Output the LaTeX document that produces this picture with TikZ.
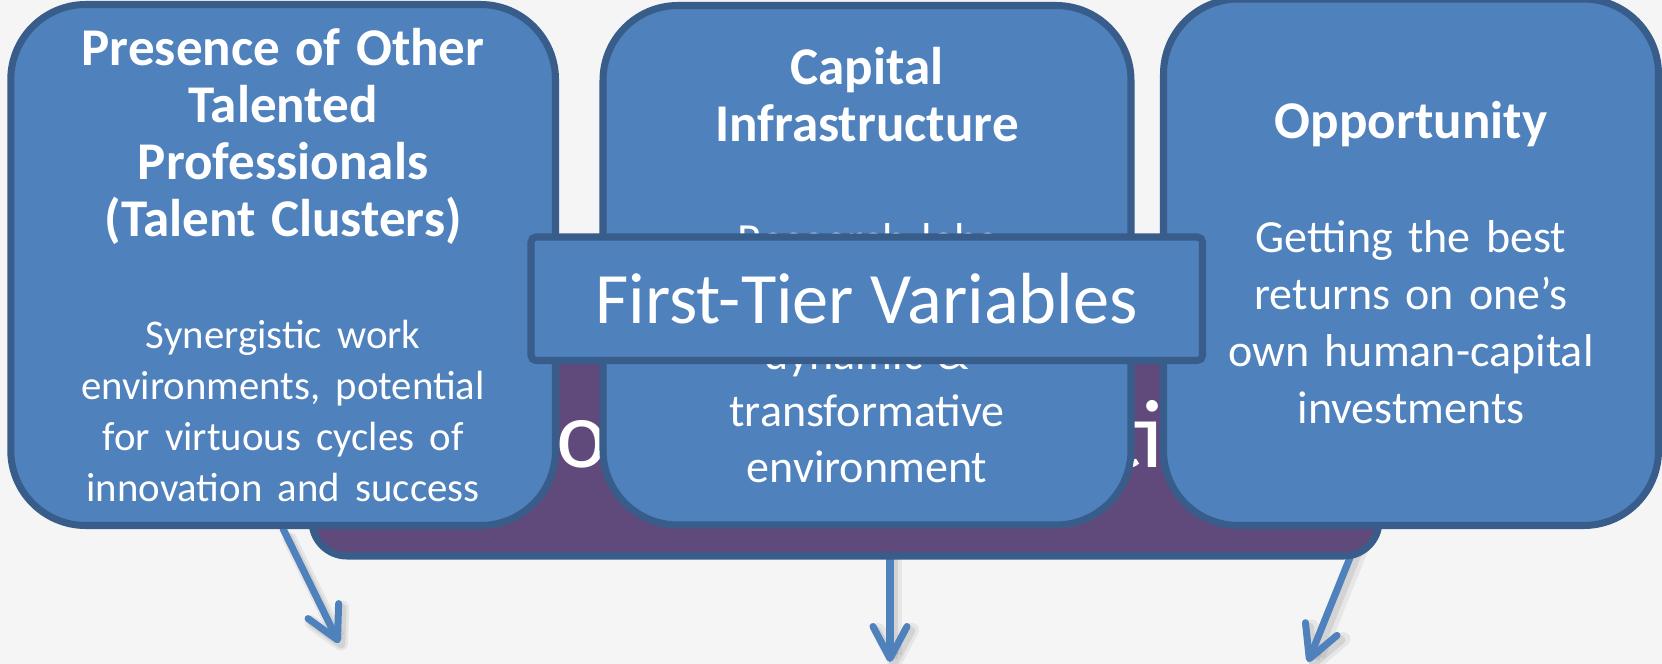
\documentclass[tikz,border=0pt]{standalone}
\usepackage{fontspec}
\setmainfont{Carlito}
\usepackage{tikz}
\usetikzlibrary{positioning, arrows.meta, backgrounds}
\definecolor{boxblue}{HTML}{4F81BD}
\definecolor{boxline}{HTML}{385D8A}
\definecolor{plum}{HTML}{604A7B}
\definecolor{paper}{HTML}{F5F5F5}

\begin{document}
\begin{tikzpicture}[
    card/.style={draw=boxline, fill=boxblue, line width=2pt, rounded corners=7.5mm,
      text=white, align=center, inner sep=0pt, font=\fontsize{13.1}{16.2}\selectfont},
    flow/.style={draw=boxblue, line width=2pt, line cap=round,
      -{Straight Barb[length=3.2mm, width=3.4mm, round]},
      preaction={draw=black, opacity=.06, line width=4pt,
        transform canvas={shift={(.5mm,-.7mm)}}},
      preaction={draw=black, opacity=.08, line width=2.4pt,
        transform canvas={shift={(.4mm,-.5mm)}}}}
  ]
  \useasboundingbox (0,0) rectangle (16.62,-6.64);

  % purple panel behind the three cards
  \node[card, fill=plum, rounded corners=3.5mm, minimum width=10.67cm,
    minimum height=2.42cm] (pull) at (8.455,-4.35) {};
  \node[text=white, font=\fontsize{27.6}{30}\selectfont, anchor=base]
    (pulltitle) at (8.87,-4.67) {Points of Attraction};

  % the three cards
  \node[card, minimum width=5.447cm, minimum height=5.21cm, text width=5.2cm]
    (talent) at (2.8315,-2.65) {%
    {\bfseries\fontsize{15.1}{16.2}\selectfont Presence of Other\\ Talented\\
      Professionals\\ (Talent Clusters)\par}
    \vspace{17.4pt}
    {\fontsize{11.6}{14.5}\selectfont Synergistic work\\ environments, potential\\
      for virtuous cycles of\\ innovation and success\par}};

  \node[card, minimum width=5.28cm, minimum height=5.195cm, text width=5cm]
    (capital) at (8.67,-2.6525) {%
    {\bfseries\fontsize{15.1}{16.2}\selectfont Capital\\ Infrastructure\par}
    \vspace{16.2pt}
    Research labs\\[16.2pt]
    dynamic \&\\ transformative\\ environment};

  \node[card, minimum width=4.95cm, minimum height=5.265cm, text width=4.7cm]
    (opp) at (14.11,-2.6225) {%
    {\bfseries\fontsize{15.1}{16.2}\selectfont Opportunity\par}
    \vspace{16.3pt}
    Getting the best\\ returns on one’s\\ own human-capital\\ investments};

  % banner across the middle
  \node[card, rounded corners=0.5mm, minimum width=6.715cm, minimum height=1.235cm,
    font=\fontsize{20.6}{24}\selectfont] (tier) at (8.6675,-2.9875)
    {First-Tier Variables};

  % arrows leaving the cards
  \coordinate (talentend) at (3.39,-6.43);
  \coordinate (capend) at (8.90,-6.62);
  \coordinate (oppend) at (13.08,-6.62);
  \begin{scope}[on background layer]
    \fill[paper] (0,0) rectangle (16.62,-6.64);
    \draw[flow] (talent.south) -- (talentend);
    \draw[flow] (capital.south -| capend) -- (capend);
    \draw[flow] ([xshift=-4.95mm]opp.south) -- (oppend);
  \end{scope}
\end{tikzpicture}
\end{document}
